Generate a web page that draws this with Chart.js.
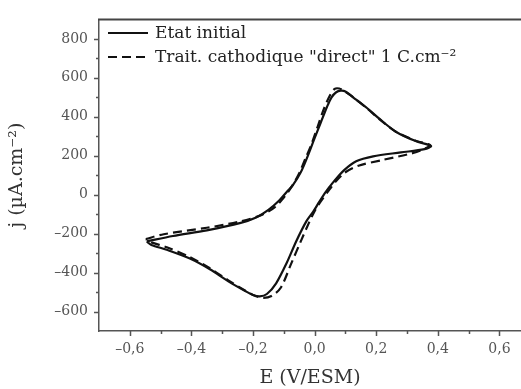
<!DOCTYPE html>
<html>
<head>
<meta charset="utf-8">
<script src="https://cdn.jsdelivr.net/npm/chart.js@4.4.1/dist/chart.umd.min.js"></script>
<style>
  html, body { margin: 0; padding: 0; background: #fff; overflow: hidden; }
  #wrap { width: 521px; height: 389px; }
</style>
</head>
<body>
<div id="wrap"><canvas id="cv"></canvas></div>
<script>
// Etat initial (solid) - E in V/ESM, j in uA/cm2, loop starting at the left vertex
const initE = [-0.545, -0.46, -0.35, -0.24, -0.19, -0.15, -0.115, -0.09, -0.07, -0.045, -0.027, 0.0, 0.02, 0.04, 0.055, 0.07, 0.085, 0.10, 0.125, 0.17, 0.21, 0.265, 0.33, 0.378,
  0.357, 0.28, 0.19, 0.135, 0.095, 0.06, 0.035, 0.015, -0.005, -0.027, -0.06, -0.09, -0.125, -0.155, -0.178, -0.2, -0.225, -0.28, -0.34, -0.405, -0.48, -0.53, -0.545];
const initJ = [-240, -212, -183, -145, -117, -78, -30, 15, 50, 115, 180, 290, 370, 450, 500, 526, 534, 530, 500, 445, 390, 322, 274, 250,
  234, 217, 197, 172, 125, 63, 12, -37, -88, -137, -240, -348, -455, -510, -522, -515, -495, -445, -383, -328, -283, -258, -240];

// Trait. cathodique "direct" 1 C.cm-2 (dashed)
const traitE = [-0.548, -0.49, -0.35, -0.24, -0.17, -0.13, -0.10, -0.075, -0.05, -0.03, -0.01, 0.01, 0.03, 0.05, 0.065, 0.08, 0.095, 0.125, 0.17, 0.21, 0.265, 0.33, 0.375,
  0.36, 0.32, 0.22, 0.145, 0.10, 0.07, 0.045, 0.02, 0.0, -0.02, -0.045, -0.075, -0.11, -0.14, -0.168, -0.2, -0.225, -0.28, -0.34, -0.405, -0.48, -0.53, -0.548];
const traitJ = [-228, -203, -170, -137, -103, -65, -15, 40, 110, 185, 260, 350, 440, 510, 543, 545, 533, 500, 443, 388, 322, 276, 255,
  238, 214, 178, 150, 115, 70, 20, -35, -85, -150, -240, -350, -478, -520, -530, -515, -493, -440, -378, -320, -270, -245, -228];

const seriesNames = ['Etat initial', 'Trait. cathodique "direct" 1 C.cm\u207B\u00B2'];
const xMajor = [-0.6, -0.4, -0.2, 0.0, 0.2, 0.4, 0.6];
const xMinor = [-0.7, -0.5, -0.3, -0.1, 0.1, 0.3, 0.5];
const yMajor = [-600, -400, -200, 0, 200, 400, 600, 800];
const yMinor = [-700, -500, -300, -100, 100, 300, 500, 700];

const toPts = (xs, ys) => xs.map((v, i) => ({ x: v, y: ys[i] }));
const fmt = (v) => {
  const s = Math.abs(v).toFixed(1).replace('.', ',');
  return (v < -1e-9 ? '\u2013' : '') + s;
};
const fmtY = (v) => (v < 0 ? '\u2013' : '') + Math.abs(v);

const axisFrame = {
  id: 'axisFrame',
  afterDraw(chart) {
    const { ctx, chartArea: a, scales: { x, y } } = chart;
    ctx.save();
    // top border
    ctx.strokeStyle = '#444';
    ctx.lineWidth = 2;
    ctx.beginPath();
    ctx.moveTo(a.left - 1, a.top);
    ctx.lineTo(chart.width, a.top);
    ctx.stroke();
    // tick marks
    ctx.strokeStyle = '#555';
    ctx.lineWidth = 1.5;
    ctx.beginPath();
    xMajor.forEach(v => { const p = Math.round(x.getPixelForValue(v)) + 0.5; ctx.moveTo(p, a.bottom); ctx.lineTo(p, a.bottom + 5); });
    xMinor.forEach(v => { const p = Math.round(x.getPixelForValue(v)) + 0.5; if (p > a.left + 1) { ctx.moveTo(p, a.bottom); ctx.lineTo(p, a.bottom + 3); } });
    yMajor.forEach(v => { const p = Math.round(y.getPixelForValue(v)) + 0.5; ctx.moveTo(a.left, p); ctx.lineTo(a.left - 5, p); });
    yMinor.forEach(v => { const p = Math.round(y.getPixelForValue(v)) + 0.5; if (p < a.bottom - 1) { ctx.moveTo(a.left, p); ctx.lineTo(a.left - 3, p); } });
    ctx.stroke();
    // legend
    ctx.font = '17px "DejaVu Serif"';
    ctx.fillStyle = '#222';
    ctx.textBaseline = 'middle';
    const rows = [33, 57];
    chart.data.datasets.forEach((ds, i) => {
      ctx.strokeStyle = ds.borderColor;
      ctx.lineWidth = 2.2;
      ctx.setLineDash(ds.borderDash || []);
      ctx.beginPath();
      ctx.moveTo(108, rows[i]);
      ctx.lineTo(148, rows[i]);
      ctx.stroke();
      ctx.setLineDash([]);
      ctx.fillText(ds.label, 155, rows[i] + 1);
    });
    ctx.restore();
  }
};

new Chart(document.getElementById('cv'), {
  type: 'scatter',
  data: {
    datasets: [
      {
        label: seriesNames[0],
        data: toPts(initE, initJ),
        showLine: true,
        borderColor: '#111',
        borderWidth: 2.2,
        pointRadius: 0,
        tension: 0.3
      },
      {
        label: seriesNames[1],
        data: toPts(traitE, traitJ),
        showLine: true,
        borderColor: '#111',
        borderWidth: 2.2,
        borderDash: [9, 5],
        pointRadius: 0,
        tension: 0.3
      }
    ]
  },
  options: {
    responsive: true,
    maintainAspectRatio: false,
    animation: false,
    layout: { padding: { top: 14, right: 0, left: 0, bottom: 0 } },
    plugins: { legend: { display: false }, tooltip: { enabled: false } },
    scales: {
      x: {
        type: 'linear',
        min: -0.7,
        max: 0.67,
        afterBuildTicks: (s) => { s.ticks = xMajor.map(v => ({ value: v })); },
        afterFit: (s) => { s.height = 58; },
        grid: { display: false, drawTicks: false },
        border: { display: true, color: '#555', width: 1.5 },
        ticks: { color: '#555', padding: 10, font: { family: 'DejaVu Serif', size: 14 }, callback: (v) => fmt(v), maxRotation: 0 },
        title: { display: true, text: 'E (V/ESM)', color: '#333', padding: 0, font: { family: 'DejaVu Serif', size: 19 } }
      },
      y: {
        type: 'linear',
        min: -700,
        max: 900,
        afterBuildTicks: (s) => { s.ticks = yMajor.map(v => ({ value: v })); },
        afterFit: (s) => { s.width = 99; },
        grid: { display: false, drawTicks: false },
        border: { display: true, color: '#555', width: 1.5 },
        ticks: { color: '#555', padding: 11, font: { family: 'DejaVu Serif', size: 14 }, callback: (v) => fmtY(v) },
        title: { display: true, text: 'j (\u00B5A.cm\u207B\u00B2)', color: '#333', padding: { top: 6, bottom: 0 }, font: { family: 'DejaVu Serif', size: 19 } }
      }
    }
  },
  plugins: [axisFrame]
});
</script>
</body>
</html>
